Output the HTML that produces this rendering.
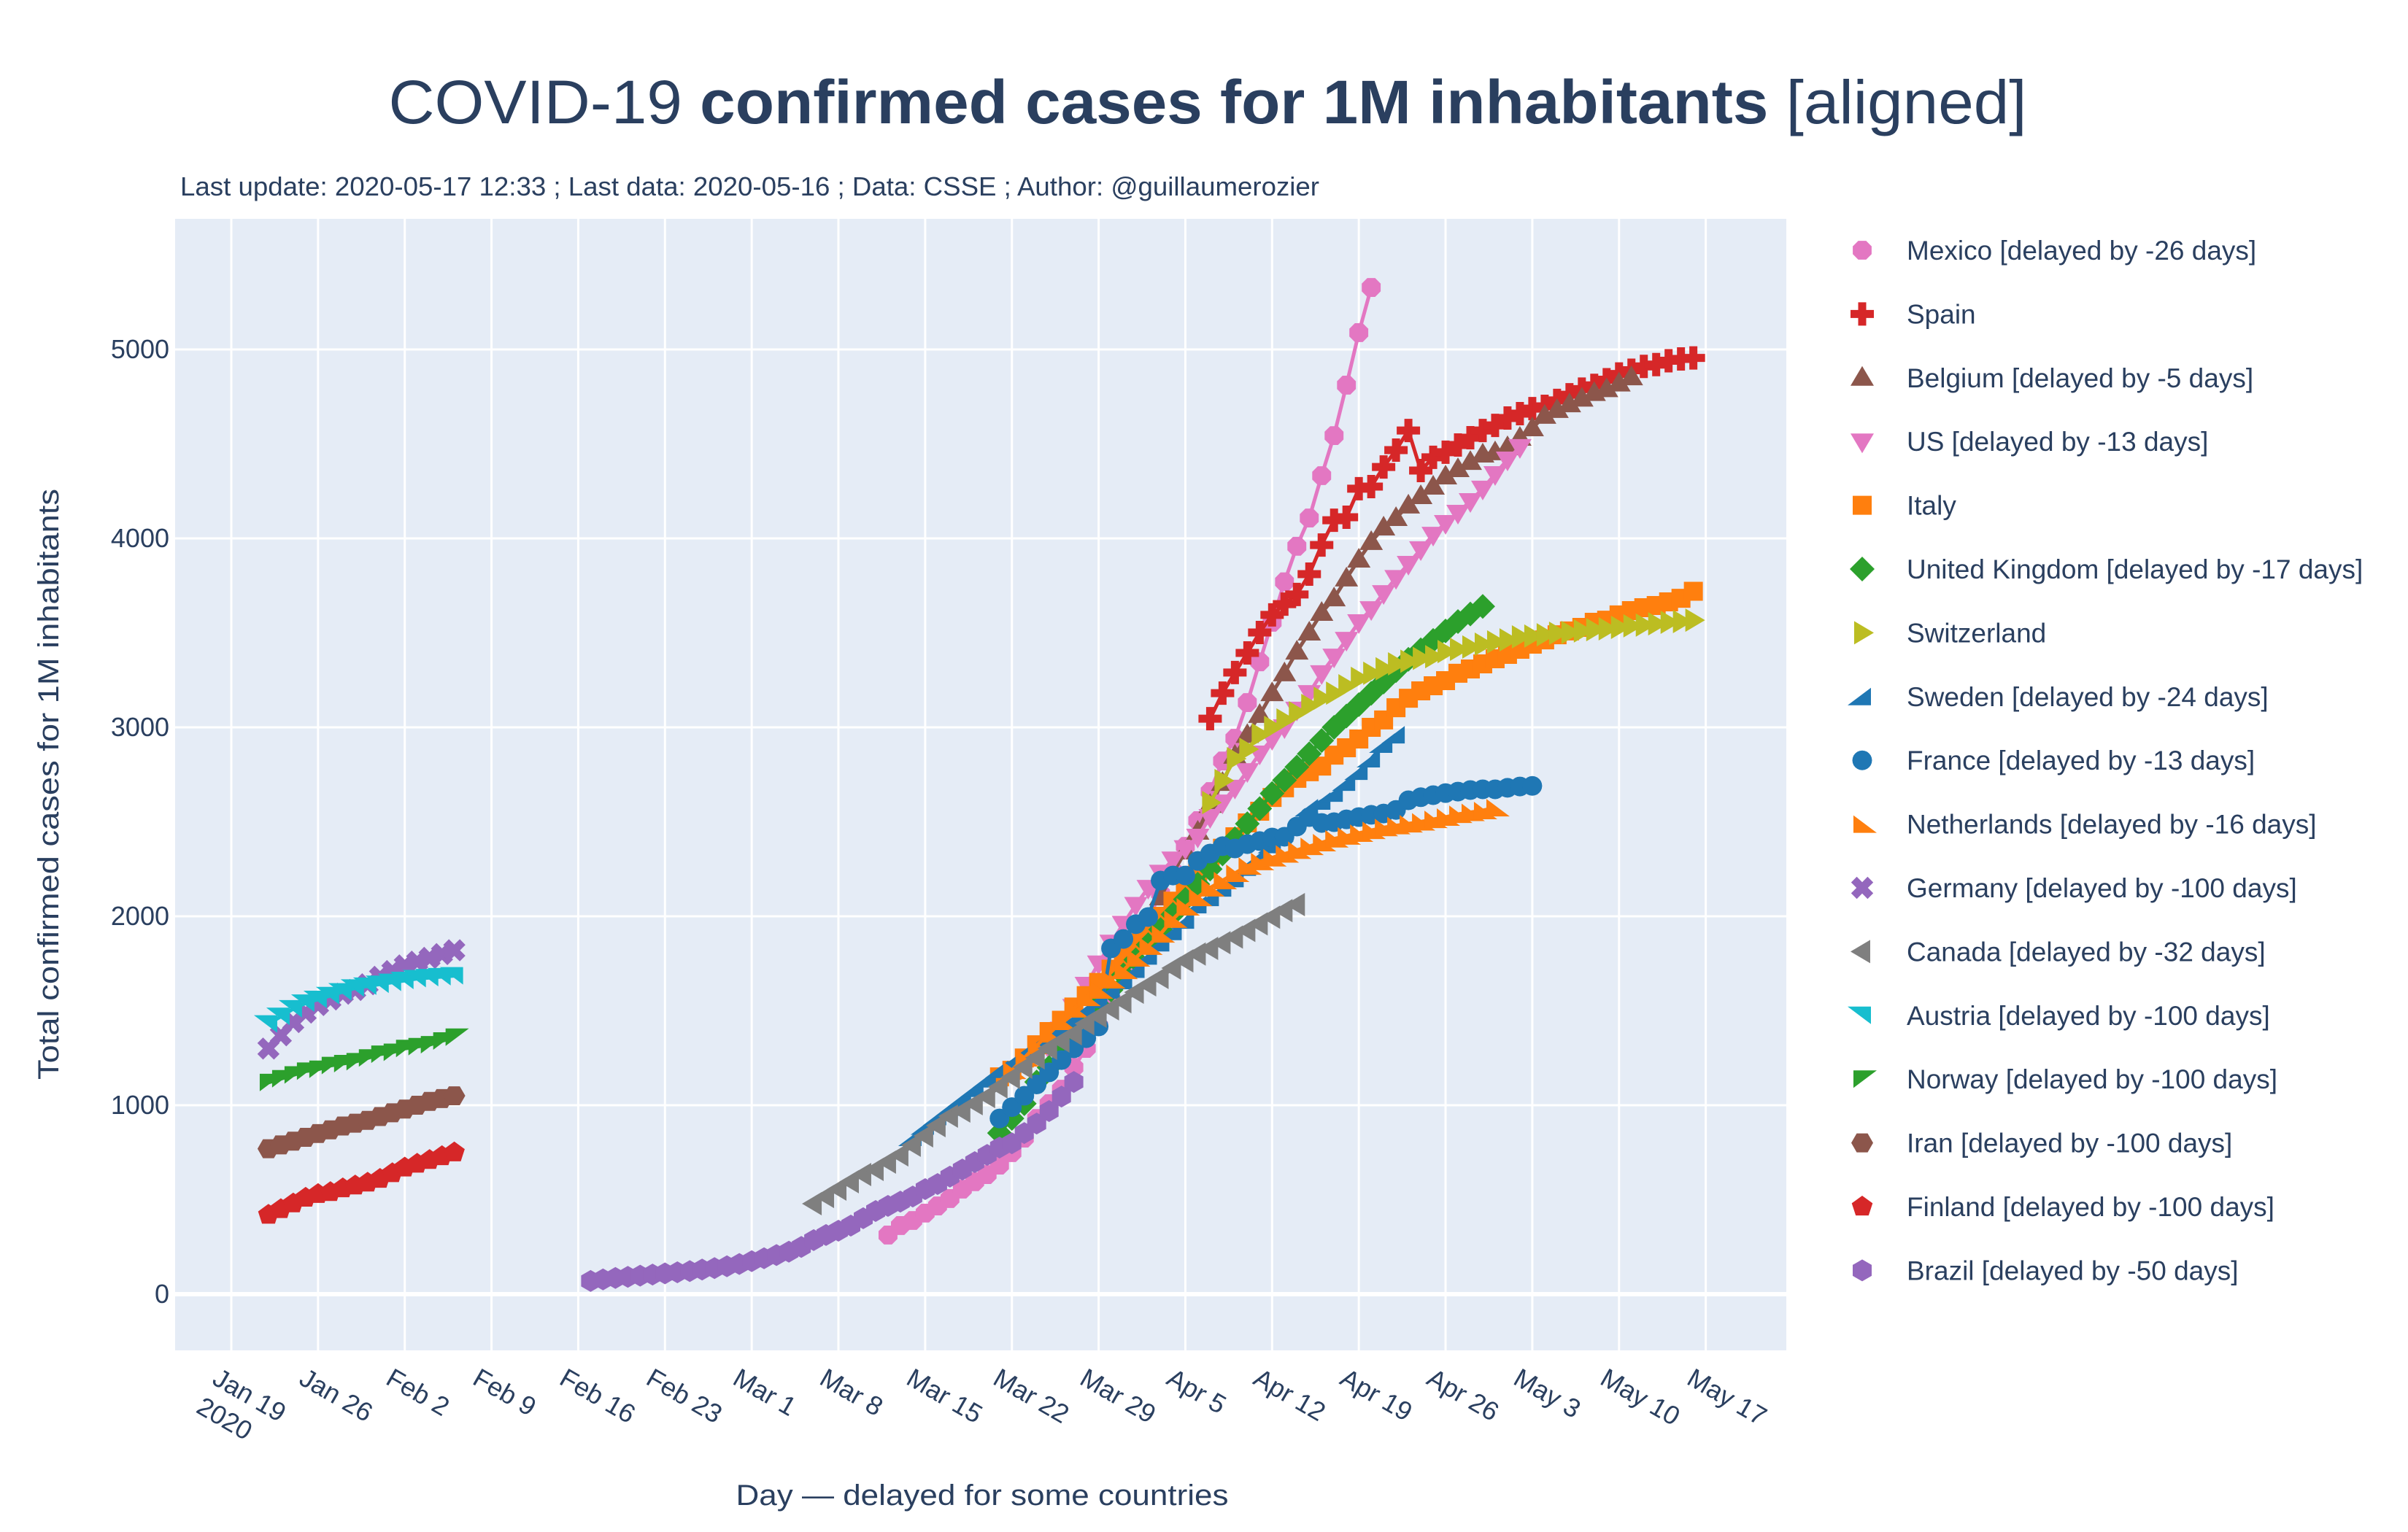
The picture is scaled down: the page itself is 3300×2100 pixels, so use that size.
<!DOCTYPE html>
<html><head><meta charset="utf-8"><title>COVID-19 confirmed cases for 1M inhabitants</title>
<style>
html,body{margin:0;padding:0;background:#fff;}
svg{display:block;font-family:"Liberation Sans",sans-serif;}
</style></head>
<body>
<svg id="chart" width="3300" height="2100" viewBox="0 0 3300 2100" xmlns="http://www.w3.org/2000/svg">
  <rect x="0" y="0" width="3300" height="2100" fill="#ffffff"/>
  <text x="1655" y="169" text-anchor="middle" font-size="84" fill="#2a3f5f" textLength="2245" lengthAdjust="spacingAndGlyphs">COVID-19 <tspan font-weight="bold">confirmed cases for 1M inhabitants</tspan> [aligned]</text>
  <text x="247" y="268" font-size="36" fill="#2a3f5f" textLength="1561" lengthAdjust="spacingAndGlyphs">Last update: 2020-05-17 12:33 ; Last data: 2020-05-16 ; Data: CSSE ; Author: @guillaumerozier</text>
  <rect x="240" y="300" width="2208" height="1551" fill="#e5ecf6"/>
  <g id="grid"></g>
  <g id="yticks"></g>
  <g id="xticks"></g>
  <g id="series"></g>
  <g id="legend"></g>
  <text transform="translate(80,1075) rotate(-90)" text-anchor="middle" font-size="40" fill="#2a3f5f" textLength="810" lengthAdjust="spacingAndGlyphs">Total confirmed cases  for 1M inhabitants</text>
  <text x="1346" y="2063" text-anchor="middle" font-size="40" fill="#2a3f5f" textLength="675" lengthAdjust="spacingAndGlyphs">Day — delayed for some countries</text>
</svg>
<script>
// ---- data (day index: 0 = Jan 19 2020) ----
const xTickLabels = ["Jan 19","Jan 26","Feb 2","Feb 9","Feb 16","Feb 23","Mar 1","Mar 8","Mar 15","Mar 22","Mar 29","Apr 5","Apr 12","Apr 19","Apr 26","May 3","May 10","May 17"];
const xTickDays = [0,7,14,21,28,35,42,49,56,63,70,77,84,91,98,105,112,119];
const yTickValues = [0,1000,2000,3000,4000,5000];

const seriesNames = ["Mexico [delayed by -26 days]","Spain","Belgium [delayed by -5 days]","US [delayed by -13 days]","Italy","United Kingdom [delayed by -17 days]","Switzerland","Sweden [delayed by -24 days]","France [delayed by -13 days]","Netherlands [delayed by -16 days]","Germany [delayed by -100 days]","Canada [delayed by -32 days]","Austria [delayed by -100 days]","Norway [delayed by -100 days]","Iran [delayed by -100 days]","Finland [delayed by -100 days]","Brazil [delayed by -50 days]"];
const seriesStartDays = [53,79,75,66,62,62,79,55,62,63,3,47,3,3,3,3,29];

const mexicoValues = [313,363,390,429,467,506,556,595,633,683,749,826,930,1008,1085,1200,1301,1420,1560,1700,1850,1990,2120,2240,2370,2506,2660,2822,2942,3131,3347,3556,3770,3958,4108,4332,4544,4811,5089,5328];
const spainValues = [3046,3181,3290,3394,3502,3595,3652,3703,3811,3965,4096,4112,4263,4274,4378,4467,4571,4359,4429,4456,4494,4533,4571,4598,4637,4660,4687,4699,4730,4760,4790,4810,4840,4870,4890,4910,4920,4940,4950,4955];
const belgiumValues = [2100,2230,2343,2448,2590,2706,2850,2960,3066,3181,3286,3401,3502,3606,3683,3788,3888,3981,4058,4108,4174,4224,4274,4328,4367,4405,4444,4456,4483,4533,4583,4649,4680,4710,4740,4770,4790,4820,4853];
const usValues = [1300,1400,1520,1637,1750,1860,1960,2060,2150,2230,2300,2360,2421,2525,2602,2680,2768,2861,2938,3000,3093,3181,3286,3374,3463,3556,3625,3710,3790,3865,3942,4019,4081,4135,4197,4263,4340,4417,4483];
const italyValues = [1150,1185,1250,1320,1390,1450,1520,1580,1650,1720,1790,1860,1930,2000,2080,2160,2230,2300,2360,2421,2494,2556,2629,2680,2730,2765,2795,2853,2892,2938,3000,3039,3104,3154,3193,3220,3247,3286,3309,3336,3363,3386,3413,3440,3463,3490,3510,3529,3556,3567,3595,3618,3633,3645,3664,3683,3720];
const ukValues = [853,930,1008,1123,1200,1290,1370,1450,1530,1610,1690,1770,1850,1930,2010,2090,2170,2250,2330,2410,2490,2570,2650,2720,2790,2860,2930,3000,3060,3120,3180,3240,3300,3360,3410,3460,3510,3560,3600,3640];
const switzerlandValues = [2602,2718,2834,2884,2961,3000,3039,3077,3116,3154,3181,3220,3259,3286,3310,3336,3350,3365,3374,3401,3413,3425,3440,3452,3463,3479,3483,3490,3498,3502,3510,3517,3521,3529,3537,3541,3548,3556,3560,3567];
const swedenValues = [830,890,940,990,1040,1090,1140,1190,1230,1280,1320,1370,1410,1460,1510,1560,1610,1660,1720,1790,1860,1920,1980,2062,2100,2150,2200,2260,2320,2380,2440,2500,2575,2610,2652,2710,2768,2834,2911,2961];
const franceValues = [930,990,1050,1110,1174,1239,1301,1355,1417,1830,1880,1958,1996,2189,2216,2216,2293,2332,2371,2359,2382,2398,2417,2421,2475,2525,2494,2498,2513,2525,2537,2544,2563,2614,2630,2641,2652,2660,2668,2672,2672,2680,2687,2690];
const netherlandsValues = [1185,1251,1317,1378,1444,1510,1571,1610,1664,1714,1780,1842,1907,1985,2050,2100,2151,2189,2228,2266,2290,2310,2330,2350,2370,2390,2410,2425,2440,2455,2470,2480,2490,2500,2513,2525,2540,2550,2560,2575];
const germanyValues = [1300,1370,1440,1490,1530,1560,1590,1610,1640,1680,1710,1740,1760,1780,1800,1820];
const canadaValues = [479,517,556,595,633,660,699,737,788,838,892,942,969,1008,1046,1097,1147,1201,1251,1301,1340,1378,1432,1471,1510,1548,1598,1637,1676,1726,1764,1800,1830,1860,1890,1925,1960,1995,2030,2062];
const austriaValues = [1430,1470,1510,1540,1560,1580,1600,1620,1630,1640,1650,1660,1670,1675,1680,1685];
const norwayValues = [1120,1140,1160,1180,1190,1210,1220,1230,1250,1270,1280,1300,1310,1320,1340,1360];
const iranValues = [770,790,810,830,850,870,890,905,920,940,960,980,1000,1020,1035,1050];
const finlandValues = [420,450,480,510,530,540,560,575,590,610,640,670,690,710,730,750];
const brazilValues = [70,78,86,92,98,104,110,116,122,130,138,148,160,175,190,207,225,250,286,313,336,363,402,440,467,490,517,556,583,622,660,699,737,776,799,853,903,969,1046,1123];

const seriesValues = [mexicoValues,spainValues,belgiumValues,usValues,italyValues,ukValues,switzerlandValues,swedenValues,franceValues,netherlandsValues,germanyValues,canadaValues,austriaValues,norwayValues,iranValues,finlandValues,brazilValues];
const seriesColors = ["#e377c2","#d62728","#8c564b","#e377c2","#ff7f0e","#2ca02c","#bcbd22","#1f77b4","#1f77b4","#ff7f0e","#9467bd","#7f7f7f","#17becf","#2ca02c","#8c564b","#d62728","#9467bd"];
const seriesSymbols = ["octagon","cross","triangle-up","triangle-down","square","diamond","triangle-right","tri-ne","circle","tri-sw","x","triangle-left","tri-ne-top","tri-nw","hexagon2","pentagon","hexagon"];
const seriesKeys = ["mexico","spain","belgium","us","italy","united-kingdom","switzerland","sweden","france","netherlands","germany","canada","austria","norway","iran","finland","brazil"];

// ---- axes ----
const PL = 240, PR = 2448, PT = 300, PB = 1851;
function xScale(d){ return 317 + 16.98 * d; }
function yScale(v){ return 1774 - 0.259 * v; }

const NS = "http://www.w3.org/2000/svg";
function mk(tag, attrs, parent){
  const e = document.createElementNS(NS, tag);
  for (const k in attrs) e.setAttribute(k, attrs[k]);
  parent.appendChild(e);
  return e;
}

function poly(cx, cy, n, r, rot){
  const pts = [];
  for (let i = 0; i < n; i++){
    const a = rot + i * 2 * Math.PI / n;
    pts.push((cx + r * Math.cos(a)).toFixed(1) + "," + (cy + r * Math.sin(a)).toFixed(1));
  }
  return "M" + pts.join("L") + "Z";
}
function shapePath(sym, cx, cy){
  const r = 13;
  switch (sym){
    case "octagon": return poly(cx, cy, 8, 14, Math.PI / 8);
    case "circle": return poly(cx, cy, 24, 13.5, 0);
    case "cross": { const a = 16, b = 5.5;
      return `M${cx-b},${cy-a}H${cx+b}V${cy-b}H${cx+a}V${cy+b}H${cx+b}V${cy+a}H${cx-b}V${cy+b}H${cx-a}V${cy-b}H${cx-b}Z`; }
    case "x": { const a = 16, b = 5.5; const p = [[-b,-a],[b,-a],[b,-b],[a,-b],[a,b],[b,b],[b,a],[-b,a],[-b,b],[-a,b],[-a,-b],[-b,-b]];
      const c = Math.SQRT1_2; return "M" + p.map(q => (cx + (q[0]-q[1])*c).toFixed(1) + "," + (cy + (q[0]+q[1])*c).toFixed(1)).join("L") + "Z"; }
    case "triangle-up": return `M${cx},${cy-16}L${cx+16},${cy+11}L${cx-16},${cy+11}Z`;
    case "triangle-down": return `M${cx},${cy+16}L${cx+16},${cy-11}L${cx-16},${cy-11}Z`;
    case "triangle-right": return `M${cx+16},${cy}L${cx-11},${cy+16}L${cx-11},${cy-16}Z`;
    case "triangle-left": return `M${cx-16},${cy}L${cx+11},${cy+16}L${cx+11},${cy-16}Z`;
    case "square": return `M${cx-r},${cy-r}H${cx+r}V${cy+r}H${cx-r}Z`;
    case "diamond": return `M${cx},${cy-17}L${cx+17},${cy}L${cx},${cy+17}L${cx-17},${cy}Z`;
    case "tri-ne": return `M${cx+12},${cy-12}L${cx+12},${cy+12}L${cx-20},${cy+12}Z`;
    case "tri-sw": return `M${cx-12},${cy-12}L${cx-12},${cy+12}L${cx+20},${cy+12}Z`;
    case "tri-ne-top": return `M${cx-20},${cy-12}L${cx+12},${cy-12}L${cx+12},${cy+12}Z`;
    case "tri-nw": return `M${cx-12},${cy-12}L${cx+20},${cy-12}L${cx-12},${cy+12}Z`;
    case "hexagon2": return poly(cx, cy, 6, 15, 0);
    case "hexagon": return poly(cx, cy, 6, 15, Math.PI / 6);
    case "pentagon": return poly(cx, cy, 5, 15, -Math.PI / 2);
  }
  return "";
}

// gridlines
const grid = document.getElementById("grid");
xTickDays.forEach((d, i) => {
  const x = xScale(d);
  const l = mk("line", {x1: x, x2: x, y1: PT, y2: PB, stroke: "#ffffff", "stroke-width": 3}, grid);
  
  
});
yTickValues.forEach(v => {
  const y = yScale(v);
  const l = mk("line", {x1: PL, x2: PR, y1: y, y2: y, stroke: "#ffffff", "stroke-width": v === 0 ? 6 : 3}, grid);
  
  
});

// y ticks
const yt = document.getElementById("yticks");
yTickValues.forEach(v => {
  const t = mk("text", {x: 232, y: yScale(v) + 12, "text-anchor": "end", "font-size": 36, fill: "#2a3f5f"}, yt);
  t.textContent = String(v);
  
  
});

// x ticks
const xt = document.getElementById("xticks");
xTickLabels.forEach((lab, i) => {
  const x = xScale(xTickDays[i]) - 28, y = 1896;
  const t = mk("text", {x: x, y: y, "font-size": 36, fill: "#2a3f5f", transform: `rotate(30 ${x} ${y})`}, xt);
  t.textContent = lab;
  
  
  if (i === 0){
    const t2 = mk("text", {x: x - 22, y: y + 39, "font-size": 36, fill: "#2a3f5f", transform: `rotate(30 ${x - 22} ${y + 39})`}, xt);
    t2.textContent = "2020";
    
    
  }
});

// series
const sg = document.getElementById("series");
seriesValues.forEach((vals, si) => {
  const g = mk("g", {}, sg);
  
  
  const start = seriesStartDays[si];
  const pts = vals.map((v, k) => xScale(start + k).toFixed(1) + "," + yScale(v).toFixed(1));
  const line = mk("polyline", {points: pts.join(" "), fill: "none", stroke: seriesColors[si], "stroke-width": 5, "stroke-linejoin": "round"}, g);
  
  
  vals.forEach((v, k) => {
    const p = mk("path", {d: shapePath(seriesSymbols[si], xScale(start + k), yScale(v)), fill: seriesColors[si]}, g);
    
    
  });
});

// legend
const lg = document.getElementById("legend");
seriesNames.forEach((name, i) => {
  const y = 343 + i * 87.4;
  const g = mk("g", {}, lg);
  
  
  const p = mk("path", {d: shapePath(seriesSymbols[i], 2552, y), fill: seriesColors[i]}, g);
  
  
  const t = mk("text", {x: 2613, y: y + 13, "font-size": 37, fill: "#2a3f5f"}, g);
  t.textContent = name;
  
  
});
</script>
</body></html>
